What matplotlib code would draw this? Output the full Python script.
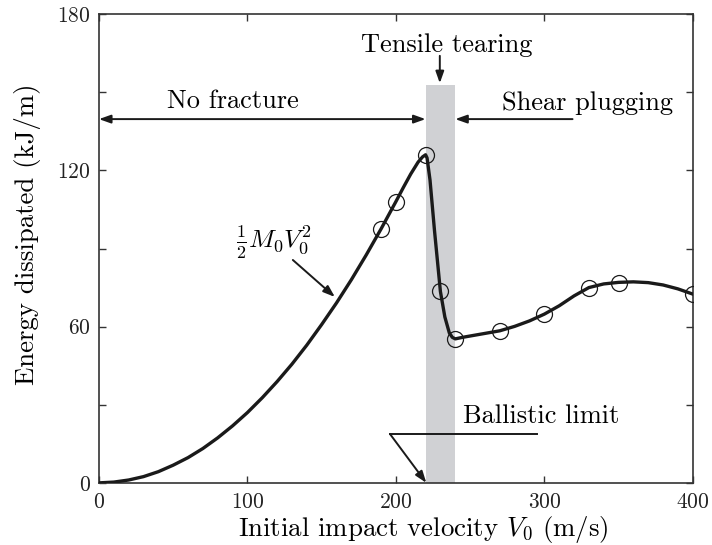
import matplotlib
matplotlib.use("Agg")
import matplotlib.pyplot as plt

plt.rcParams['font.family'] = ['cmr10', 'DejaVu Serif']
plt.rcParams['mathtext.fontset'] = 'cm'
plt.rcParams['axes.formatter.use_mathtext'] = True

# simulation results (open circles)
points_v = [190, 200, 220, 230, 240, 270, 300, 330, 350, 400]
points_e = [97.5, 107.8, 125.9, 73.5, 55.3, 58.4, 64.8, 75.0, 76.8, 72.5]

# fitted curve
curve_v = [0, 10, 20, 30, 40, 50, 60, 70, 80, 90, 100, 110, 120, 130, 140,
           150, 160, 170, 180, 190, 200, 205, 210, 215, 218, 220, 221, 223,
           226, 230, 233, 236, 238, 240, 245, 250, 260, 270, 280, 290, 300,
           310, 320, 330, 340, 350, 360, 370, 380, 390, 400]
curve_e = [0, 0.3, 1.1, 2.4, 4.3, 6.8, 9.7, 13.2, 17.3, 21.9, 27.0, 32.7,
           38.9, 45.6, 52.9, 60.8, 69.1, 78.0, 87.5, 97.5, 108.0, 113.4,
           118.6, 123.2, 125.2, 126.0, 124.8, 116.3, 97.0, 73.5, 63.7, 57.6,
           55.9, 55.3, 55.9, 56.4, 57.4, 58.4, 60.1, 62.2, 64.8, 68.0, 71.8,
           75.0, 76.4, 77.0, 77.2, 76.9, 76.0, 74.5, 72.5]

# tensile tearing band
band_v = [220, 240]
band_top = 152.7

xticks = [0, 100, 200, 300, 400]
yticks = [0, 60, 120, 180]
yminor = [30, 90, 150]

fig = plt.figure(figsize=(7.12, 5.45), dpi=100)
ax = fig.add_axes([0.139, 0.114, 0.834, 0.860])

ax.fill_between(band_v, 0, band_top, color='#d0d1d4', lw=0, zorder=1)
ax.plot(curve_v, curve_e, color='#1a1a1a', lw=2.4, zorder=3)
ax.plot(points_v, points_e, 'o', mfc='none', mec='#1a1a1a', mew=0.9,
        ms=11.5, zorder=4)

ax.set_xlim(0, 400)
ax.set_ylim(0, 180)
ax.set_xticks(xticks)
ax.set_yticks(yticks)
ax.set_yticks(yminor, minor=True)
ax.tick_params(which='both', direction='in', top=True, right=True,
               length=5, width=1, color='#333333', labelsize=15.5,
               labelcolor='#222222')
ax.tick_params(axis='x', pad=7)
ax.tick_params(axis='y', pad=6)
for s in ax.spines.values():
    s.set_color('#333333')
    s.set_linewidth(1.2)

ax.set_xlabel('Initial impact velocity $V_0$ (m/s)', fontsize=19.3)
ax.xaxis.set_label_coords(0.546, -0.067)
ax.set_ylabel('Energy dissipated (kJ/m)', fontsize=19.3)
ax.yaxis.set_label_coords(-0.098, 0.531)

arrow = dict(arrowstyle='-|>,head_length=0.7,head_width=0.25',
             color='#1a1a1a', lw=1.4, shrinkA=0, shrinkB=0)
fs = 19

# No fracture
ax.annotate('', xy=(0, 139.7), xytext=(220, 139.7),
            arrowprops=dict(arrow, arrowstyle='<|-|>,head_length=0.7,head_width=0.25'))
ax.text(90, 146.5, 'No fracture', fontsize=fs, ha='center', va='center')

# Shear plugging
ax.annotate('', xy=(240, 139.7), xytext=(319, 139.7), arrowprops=arrow)
ax.text(329, 146, 'Shear plugging', fontsize=fs, ha='center', va='center')

# Tensile tearing
ax.annotate('', xy=(229.6, 153.5), xytext=(229.6, 164), arrowprops=arrow)
ax.text(234, 168, 'Tensile tearing', fontsize=fs, ha='center', va='center')

# Ballistic limit
ax.plot([196, 295], [18.8, 18.8], color='#1a1a1a', lw=1.4, zorder=5)
ax.annotate('', xy=(220.5, 0), xytext=(196, 18.8), arrowprops=arrow,
            annotation_clip=False)
ax.text(245, 25.5, 'Ballistic limit', fontsize=fs, ha='left', va='center')

# kinetic energy label
ax.annotate('', xy=(158.9, 71.4), xytext=(130.6, 85.6), arrowprops=arrow)
ax.text(118, 92.5, r'$\frac{1}{2}M_0V_0^2$', fontsize=18.5, ha='center',
        va='center')

fig.savefig('out.png', dpi=100)
